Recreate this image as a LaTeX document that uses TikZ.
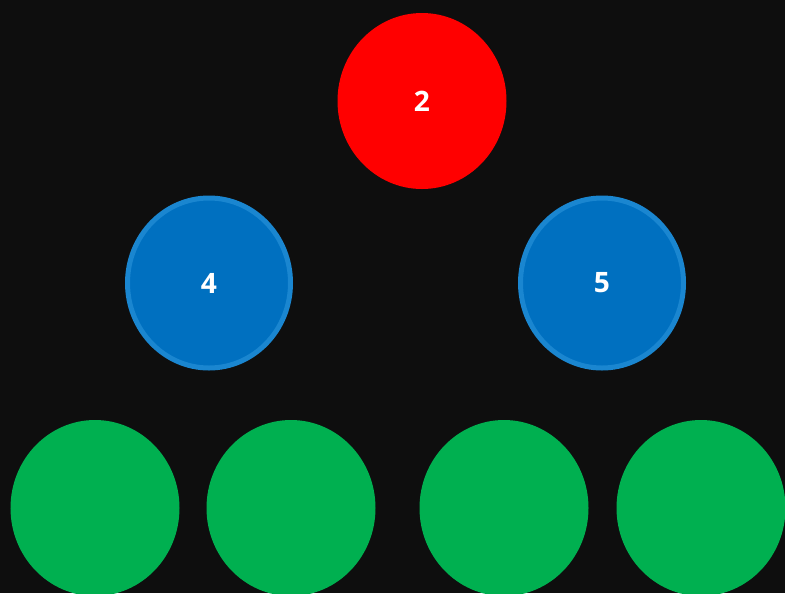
\documentclass[tikz,border=0pt]{standalone}
\usepackage{fontspec}
\setmainfont{Open Sans}
\usetikzlibrary{shapes.geometric}

\definecolor{bgdark}{RGB}{14, 14, 14}
\definecolor{rootred}{RGB}{255, 0, 0}
\definecolor{midblue}{RGB}{0, 112, 192}
\definecolor{rimblue}{RGB}{26, 134, 208}
\definecolor{leafgreen}{RGB}{0, 176, 80}

\begin{document}
\begin{tikzpicture}[
    bubble/.style={ellipse, minimum width=4.225cm, minimum height=4.4cm, inner sep=0pt,
      text=white, font=\fontsize{20}{24}\selectfont\bfseries},
    rootbubble/.style={bubble, fill=rootred},
    midbubble/.style={bubble, fill=midblue, draw=rimblue, line width=0.125cm,
      minimum width=4.075cm, minimum height=4.25cm},
    leafbubble/.style={bubble, fill=leafgreen}
  ]
    % Background
    \fill[bgdark] (0,0) rectangle (19.625,-14.825);
    \useasboundingbox (0,0) rectangle (19.625,-14.825);

    % Top level
    \node[rootbubble] (two) at (10.55,-2.525) {2};

    % Middle level
    \node[midbubble] (four) at (5.225,-7.075) {4};
    \node[midbubble] (five) at (15.05,-7.075) {5};

    % Bottom level
    \node[leafbubble] (leafa) at (2.375,-12.7) {};
    \node[leafbubble] (leafb) at (7.275,-12.7) {};
    \node[leafbubble] (leafc) at (12.6,-12.7) {};
    \node[leafbubble] (leafd) at (17.525,-12.7) {};
  \end{tikzpicture}
\end{document}
